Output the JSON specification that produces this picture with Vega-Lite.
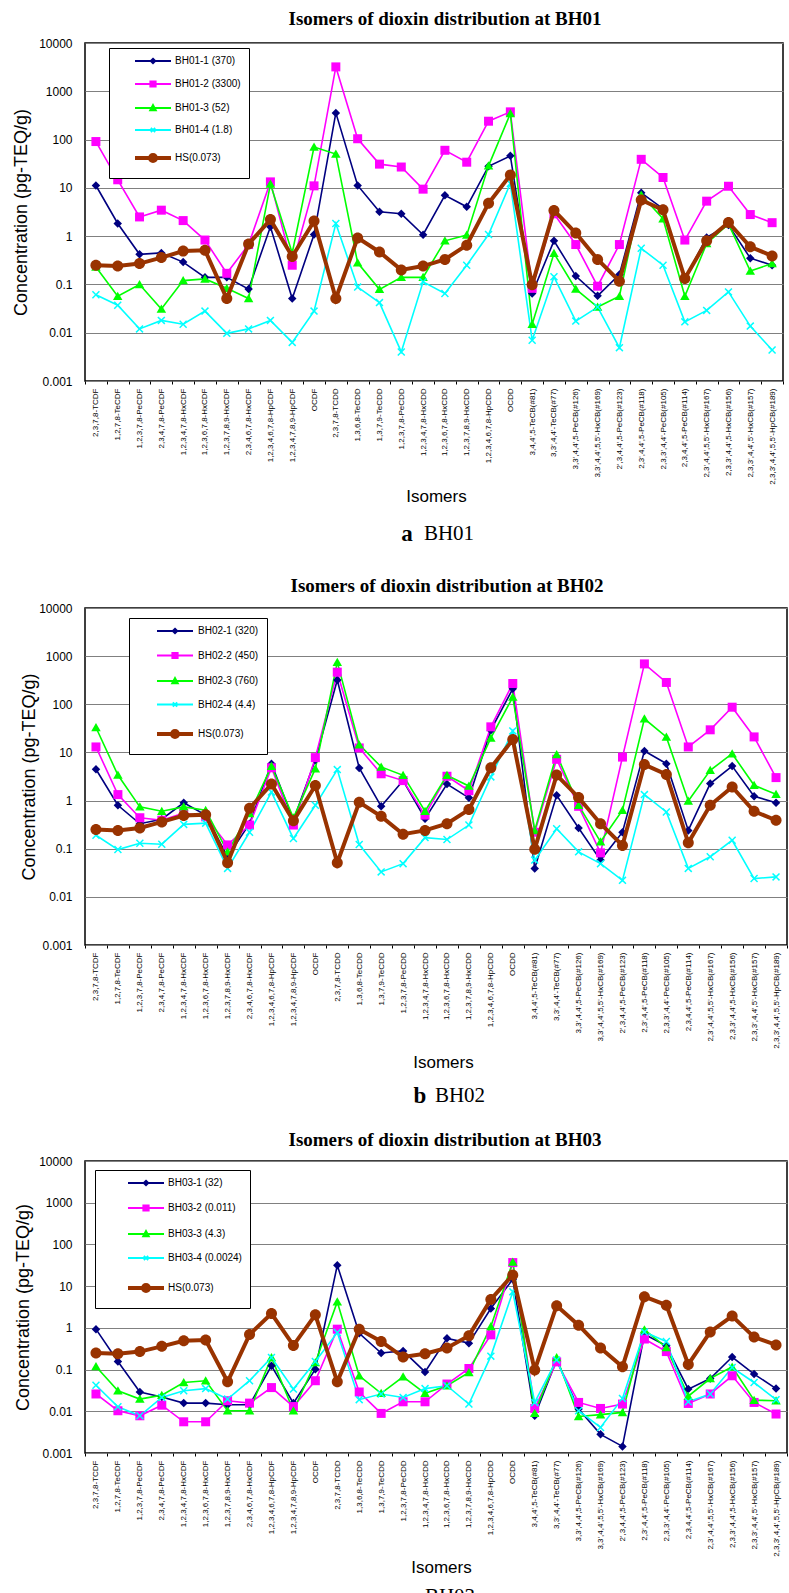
{
  "$schema": "https://vega.github.io/schema/vega-lite/v6.json",
  "description": "Isomers of dioxin distribution at BH01, BH02 and BH03 (log scale, pg-TEQ/g)",
  "padding": {"left": 11, "top": 9, "right": 0, "bottom": 0},
  "config": {
    "view": {"stroke": "black", "strokeWidth": 1.5},
    "font": "Liberation Sans",
    "axis": {"labelColor": "black", "titleColor": "black", "labelFont": "Liberation Sans", "titleFont": "Liberation Sans", "titleFontWeight": "normal"},
    "title": {"font": "Liberation Serif", "fontSize": 19, "fontWeight": "bold", "color": "black", "anchor": "middle", "frame": "group"},
    "legend": {
      "orient": "none", "title": null, "strokeColor": "black", "fillColor": "white", "padding": 8,
      "labelFont": "Liberation Sans", "labelFontSize": 10, "labelColor": "black", "symbolSize": 100,
      "cornerRadius": 0
    }
  },
  "datasets": {
    "HS": [
      {"series": "HS(0.073)", "isomer": "2,3,7,8-TCDF", "value": 0.25},
      {"series": "HS(0.073)", "isomer": "1,2,7,8-TeCDF", "value": 0.24},
      {"series": "HS(0.073)", "isomer": "1,2,3,7,8-PeCDF", "value": 0.27},
      {"series": "HS(0.073)", "isomer": "2,3,4,7,8-PeCDF", "value": 0.36},
      {"series": "HS(0.073)", "isomer": "1,2,3,4,7,8-HxCDF", "value": 0.49},
      {"series": "HS(0.073)", "isomer": "1,2,3,6,7,8-HxCDF", "value": 0.51},
      {"series": "HS(0.073)", "isomer": "1,2,3,7,8,9-HxCDF", "value": 0.051},
      {"series": "HS(0.073)", "isomer": "2,3,4,6,7,8-HxCDF", "value": 0.69},
      {"series": "HS(0.073)", "isomer": "1,2,3,4,6,7,8-HpCDF", "value": 2.2},
      {"series": "HS(0.073)", "isomer": "1,2,3,4,7,8,9-HpCDF", "value": 0.38},
      {"series": "HS(0.073)", "isomer": "OCDF", "value": 2.05},
      {"series": "HS(0.073)", "isomer": "2,3,7,8-TCDD", "value": 0.051},
      {"series": "HS(0.073)", "isomer": "1,3,6,8-TeCDD", "value": 0.92},
      {"series": "HS(0.073)", "isomer": "1,3,7,9-TeCDD", "value": 0.47},
      {"series": "HS(0.073)", "isomer": "1,2,3,7,8-PeCDD", "value": 0.2},
      {"series": "HS(0.073)", "isomer": "1,2,3,4,7,8-HxCDD", "value": 0.24},
      {"series": "HS(0.073)", "isomer": "1,2,3,6,7,8-HxCDD", "value": 0.33},
      {"series": "HS(0.073)", "isomer": "1,2,3,7,8,9-HxCDD", "value": 0.65},
      {"series": "HS(0.073)", "isomer": "1,2,3,4,6,7,8-HpCDD", "value": 4.8},
      {"series": "HS(0.073)", "isomer": "OCDD", "value": 18.5},
      {"series": "HS(0.073)", "isomer": "3,4,4',5-TeCB(#81)", "value": 0.098},
      {"series": "HS(0.073)", "isomer": "3,3',4,4'-TeCB(#77)", "value": 3.4},
      {"series": "HS(0.073)", "isomer": "3,3',4,4',5-PeCB(#126)", "value": 1.16},
      {"series": "HS(0.073)", "isomer": "3,3',4,4',5,5'-HxCB(#169)", "value": 0.33},
      {"series": "HS(0.073)", "isomer": "2',3,4,4',5-PeCB(#123)", "value": 0.117},
      {"series": "HS(0.073)", "isomer": "2,3',4,4',5-PeCB(#118)", "value": 5.6},
      {"series": "HS(0.073)", "isomer": "2,3,3',4,4'-PeCB(#105)", "value": 3.5},
      {"series": "HS(0.073)", "isomer": "2,3,4,4',5-PeCB(#114)", "value": 0.133},
      {"series": "HS(0.073)", "isomer": "2,3',4,4',5,5'-HxCB(#167)", "value": 0.8},
      {"series": "HS(0.073)", "isomer": "2,3,3',4,4',5-HxCB(#156)", "value": 1.92},
      {"series": "HS(0.073)", "isomer": "2,3,3',4,4',5'-HxCB(#157)", "value": 0.6},
      {"series": "HS(0.073)", "isomer": "2,3,3',4,4',5,5'-HpCB(#189)", "value": 0.39}
    ],
    "BH01": [
      {"series": "BH01-1 (370)", "isomer": "2,3,7,8-TCDF", "value": 11.2},
      {"series": "BH01-1 (370)", "isomer": "1,2,7,8-TeCDF", "value": 1.83},
      {"series": "BH01-1 (370)", "isomer": "1,2,3,7,8-PeCDF", "value": 0.42},
      {"series": "BH01-1 (370)", "isomer": "2,3,4,7,8-PeCDF", "value": 0.45},
      {"series": "BH01-1 (370)", "isomer": "1,2,3,4,7,8-HxCDF", "value": 0.29},
      {"series": "BH01-1 (370)", "isomer": "1,2,3,6,7,8-HxCDF", "value": 0.14},
      {"series": "BH01-1 (370)", "isomer": "1,2,3,7,8,9-HxCDF", "value": 0.14},
      {"series": "BH01-1 (370)", "isomer": "2,3,4,6,7,8-HxCDF", "value": 0.08},
      {"series": "BH01-1 (370)", "isomer": "1,2,3,4,6,7,8-HpCDF", "value": 1.56},
      {"series": "BH01-1 (370)", "isomer": "1,2,3,4,7,8,9-HpCDF", "value": 0.051},
      {"series": "BH01-1 (370)", "isomer": "OCDF", "value": 1.08},
      {"series": "BH01-1 (370)", "isomer": "2,3,7,8-TCDD", "value": 357},
      {"series": "BH01-1 (370)", "isomer": "1,3,6,8-TeCDD", "value": 11.2},
      {"series": "BH01-1 (370)", "isomer": "1,3,7,9-TeCDD", "value": 3.2},
      {"series": "BH01-1 (370)", "isomer": "1,2,3,7,8-PeCDD", "value": 2.9},
      {"series": "BH01-1 (370)", "isomer": "1,2,3,4,7,8-HxCDD", "value": 1.07},
      {"series": "BH01-1 (370)", "isomer": "1,2,3,6,7,8-HxCDD", "value": 7.0},
      {"series": "BH01-1 (370)", "isomer": "1,2,3,7,8,9-HxCDD", "value": 4.05},
      {"series": "BH01-1 (370)", "isomer": "1,2,3,4,6,7,8-HpCDD", "value": 28},
      {"series": "BH01-1 (370)", "isomer": "OCDD", "value": 46},
      {"series": "BH01-1 (370)", "isomer": "3,4,4',5-TeCB(#81)", "value": 0.065},
      {"series": "BH01-1 (370)", "isomer": "3,3',4,4'-TeCB(#77)", "value": 0.8},
      {"series": "BH01-1 (370)", "isomer": "3,3',4,4',5-PeCB(#126)", "value": 0.149},
      {"series": "BH01-1 (370)", "isomer": "3,3',4,4',5,5'-HxCB(#169)", "value": 0.058},
      {"series": "BH01-1 (370)", "isomer": "2',3,4,4',5-PeCB(#123)", "value": 0.16},
      {"series": "BH01-1 (370)", "isomer": "2,3',4,4',5-PeCB(#118)", "value": 7.9},
      {"series": "BH01-1 (370)", "isomer": "2,3,3',4,4'-PeCB(#105)", "value": 3.7},
      {"series": "BH01-1 (370)", "isomer": "2,3,4,4',5-PeCB(#114)", "value": 0.13},
      {"series": "BH01-1 (370)", "isomer": "2,3',4,4',5,5'-HxCB(#167)", "value": 0.94},
      {"series": "BH01-1 (370)", "isomer": "2,3,3',4,4',5-HxCB(#156)", "value": 1.7},
      {"series": "BH01-1 (370)", "isomer": "2,3,3',4,4',5'-HxCB(#157)", "value": 0.35},
      {"series": "BH01-1 (370)", "isomer": "2,3,3',4,4',5,5'-HpCB(#189)", "value": 0.25},
      {"series": "BH01-2 (3300)", "isomer": "2,3,7,8-TCDF", "value": 91},
      {"series": "BH01-2 (3300)", "isomer": "1,2,7,8-TeCDF", "value": 14.7},
      {"series": "BH01-2 (3300)", "isomer": "1,2,3,7,8-PeCDF", "value": 2.5},
      {"series": "BH01-2 (3300)", "isomer": "2,3,4,7,8-PeCDF", "value": 3.45},
      {"series": "BH01-2 (3300)", "isomer": "1,2,3,4,7,8-HxCDF", "value": 2.1},
      {"series": "BH01-2 (3300)", "isomer": "1,2,3,6,7,8-HxCDF", "value": 0.83},
      {"series": "BH01-2 (3300)", "isomer": "1,2,3,7,8,9-HxCDF", "value": 0.17},
      {"series": "BH01-2 (3300)", "isomer": "2,3,4,6,7,8-HxCDF", "value": 0.67},
      {"series": "BH01-2 (3300)", "isomer": "1,2,3,4,6,7,8-HpCDF", "value": 13.3},
      {"series": "BH01-2 (3300)", "isomer": "1,2,3,4,7,8,9-HpCDF", "value": 0.25},
      {"series": "BH01-2 (3300)", "isomer": "OCDF", "value": 11},
      {"series": "BH01-2 (3300)", "isomer": "2,3,7,8-TCDD", "value": 3200},
      {"series": "BH01-2 (3300)", "isomer": "1,3,6,8-TeCDD", "value": 104},
      {"series": "BH01-2 (3300)", "isomer": "1,3,7,9-TeCDD", "value": 31},
      {"series": "BH01-2 (3300)", "isomer": "1,2,3,7,8-PeCDD", "value": 27},
      {"series": "BH01-2 (3300)", "isomer": "1,2,3,4,7,8-HxCDD", "value": 9.4},
      {"series": "BH01-2 (3300)", "isomer": "1,2,3,6,7,8-HxCDD", "value": 60},
      {"series": "BH01-2 (3300)", "isomer": "1,2,3,7,8,9-HxCDD", "value": 34},
      {"series": "BH01-2 (3300)", "isomer": "1,2,3,4,6,7,8-HpCDD", "value": 240},
      {"series": "BH01-2 (3300)", "isomer": "OCDD", "value": 375},
      {"series": "BH01-2 (3300)", "isomer": "3,4,4',5-TeCB(#81)", "value": 0.083},
      {"series": "BH01-2 (3300)", "isomer": "3,3',4,4'-TeCB(#77)", "value": 2.9},
      {"series": "BH01-2 (3300)", "isomer": "3,3',4,4',5-PeCB(#126)", "value": 0.67},
      {"series": "BH01-2 (3300)", "isomer": "3,3',4,4',5,5'-HxCB(#169)", "value": 0.092},
      {"series": "BH01-2 (3300)", "isomer": "2',3,4,4',5-PeCB(#123)", "value": 0.67},
      {"series": "BH01-2 (3300)", "isomer": "2,3',4,4',5-PeCB(#118)", "value": 39},
      {"series": "BH01-2 (3300)", "isomer": "2,3,3',4,4'-PeCB(#105)", "value": 16.4},
      {"series": "BH01-2 (3300)", "isomer": "2,3,4,4',5-PeCB(#114)", "value": 0.83},
      {"series": "BH01-2 (3300)", "isomer": "2,3',4,4',5,5'-HxCB(#167)", "value": 5.3},
      {"series": "BH01-2 (3300)", "isomer": "2,3,3',4,4',5-HxCB(#156)", "value": 10.8},
      {"series": "BH01-2 (3300)", "isomer": "2,3,3',4,4',5'-HxCB(#157)", "value": 2.8},
      {"series": "BH01-2 (3300)", "isomer": "2,3,3',4,4',5,5'-HpCB(#189)", "value": 1.9},
      {"series": "BH01-3 (52)", "isomer": "2,3,7,8-TCDF", "value": 0.23},
      {"series": "BH01-3 (52)", "isomer": "1,2,7,8-TeCDF", "value": 0.057},
      {"series": "BH01-3 (52)", "isomer": "1,2,3,7,8-PeCDF", "value": 0.1},
      {"series": "BH01-3 (52)", "isomer": "2,3,4,7,8-PeCDF", "value": 0.031},
      {"series": "BH01-3 (52)", "isomer": "1,2,3,4,7,8-HxCDF", "value": 0.12},
      {"series": "BH01-3 (52)", "isomer": "1,2,3,6,7,8-HxCDF", "value": 0.13},
      {"series": "BH01-3 (52)", "isomer": "1,2,3,7,8,9-HxCDF", "value": 0.083},
      {"series": "BH01-3 (52)", "isomer": "2,3,4,6,7,8-HxCDF", "value": 0.051},
      {"series": "BH01-3 (52)", "isomer": "1,2,3,4,6,7,8-HpCDF", "value": 12},
      {"series": "BH01-3 (52)", "isomer": "1,2,3,4,7,8,9-HpCDF", "value": 0.45},
      {"series": "BH01-3 (52)", "isomer": "OCDF", "value": 70},
      {"series": "BH01-3 (52)", "isomer": "2,3,7,8-TCDD", "value": 50},
      {"series": "BH01-3 (52)", "isomer": "1,3,6,8-TeCDD", "value": 0.28},
      {"series": "BH01-3 (52)", "isomer": "1,3,7,9-TeCDD", "value": 0.079},
      {"series": "BH01-3 (52)", "isomer": "1,2,3,7,8-PeCDD", "value": 0.14},
      {"series": "BH01-3 (52)", "isomer": "1,2,3,4,7,8-HxCDD", "value": 0.14},
      {"series": "BH01-3 (52)", "isomer": "1,2,3,6,7,8-HxCDD", "value": 0.8},
      {"series": "BH01-3 (52)", "isomer": "1,2,3,7,8,9-HxCDD", "value": 1.05},
      {"series": "BH01-3 (52)", "isomer": "1,2,3,4,6,7,8-HpCDD", "value": 28.6},
      {"series": "BH01-3 (52)", "isomer": "OCDD", "value": 346},
      {"series": "BH01-3 (52)", "isomer": "3,4,4',5-TeCB(#81)", "value": 0.015},
      {"series": "BH01-3 (52)", "isomer": "3,3',4,4'-TeCB(#77)", "value": 0.44},
      {"series": "BH01-3 (52)", "isomer": "3,3',4,4',5-PeCB(#126)", "value": 0.08},
      {"series": "BH01-3 (52)", "isomer": "3,3',4,4',5,5'-HxCB(#169)", "value": 0.034},
      {"series": "BH01-3 (52)", "isomer": "2',3,4,4',5-PeCB(#123)", "value": 0.057},
      {"series": "BH01-3 (52)", "isomer": "2,3',4,4',5-PeCB(#118)", "value": 7.1},
      {"series": "BH01-3 (52)", "isomer": "2,3,3',4,4'-PeCB(#105)", "value": 2.3},
      {"series": "BH01-3 (52)", "isomer": "2,3,4,4',5-PeCB(#114)", "value": 0.057},
      {"series": "BH01-3 (52)", "isomer": "2,3',4,4',5,5'-HxCB(#167)", "value": 0.7},
      {"series": "BH01-3 (52)", "isomer": "2,3,3',4,4',5-HxCB(#156)", "value": 1.8},
      {"series": "BH01-3 (52)", "isomer": "2,3,3',4,4',5'-HxCB(#157)", "value": 0.19},
      {"series": "BH01-3 (52)", "isomer": "2,3,3',4,4',5,5'-HpCB(#189)", "value": 0.27},
      {"series": "BH01-4 (1.8)", "isomer": "2,3,7,8-TCDF", "value": 0.061},
      {"series": "BH01-4 (1.8)", "isomer": "1,2,7,8-TeCDF", "value": 0.037},
      {"series": "BH01-4 (1.8)", "isomer": "1,2,3,7,8-PeCDF", "value": 0.012},
      {"series": "BH01-4 (1.8)", "isomer": "2,3,4,7,8-PeCDF", "value": 0.018},
      {"series": "BH01-4 (1.8)", "isomer": "1,2,3,4,7,8-HxCDF", "value": 0.015},
      {"series": "BH01-4 (1.8)", "isomer": "1,2,3,6,7,8-HxCDF", "value": 0.028},
      {"series": "BH01-4 (1.8)", "isomer": "1,2,3,7,8,9-HxCDF", "value": 0.0097},
      {"series": "BH01-4 (1.8)", "isomer": "2,3,4,6,7,8-HxCDF", "value": 0.012},
      {"series": "BH01-4 (1.8)", "isomer": "1,2,3,4,6,7,8-HpCDF", "value": 0.018},
      {"series": "BH01-4 (1.8)", "isomer": "1,2,3,4,7,8,9-HpCDF", "value": 0.0063},
      {"series": "BH01-4 (1.8)", "isomer": "OCDF", "value": 0.028},
      {"series": "BH01-4 (1.8)", "isomer": "2,3,7,8-TCDD", "value": 1.83},
      {"series": "BH01-4 (1.8)", "isomer": "1,3,6,8-TeCDD", "value": 0.088},
      {"series": "BH01-4 (1.8)", "isomer": "1,3,7,9-TeCDD", "value": 0.042},
      {"series": "BH01-4 (1.8)", "isomer": "1,2,3,7,8-PeCDD", "value": 0.004},
      {"series": "BH01-4 (1.8)", "isomer": "1,2,3,4,7,8-HxCDD", "value": 0.113},
      {"series": "BH01-4 (1.8)", "isomer": "1,2,3,6,7,8-HxCDD", "value": 0.065},
      {"series": "BH01-4 (1.8)", "isomer": "1,2,3,7,8,9-HxCDD", "value": 0.25},
      {"series": "BH01-4 (1.8)", "isomer": "1,2,3,4,6,7,8-HpCDD", "value": 1.08},
      {"series": "BH01-4 (1.8)", "isomer": "OCDD", "value": 12.3},
      {"series": "BH01-4 (1.8)", "isomer": "3,4,4',5-TeCB(#81)", "value": 0.007},
      {"series": "BH01-4 (1.8)", "isomer": "3,3',4,4'-TeCB(#77)", "value": 0.144},
      {"series": "BH01-4 (1.8)", "isomer": "3,3',4,4',5-PeCB(#126)", "value": 0.0174},
      {"series": "BH01-4 (1.8)", "isomer": "3,3',4,4',5,5'-HxCB(#169)", "value": 0.034},
      {"series": "BH01-4 (1.8)", "isomer": "2',3,4,4',5-PeCB(#123)", "value": 0.0049},
      {"series": "BH01-4 (1.8)", "isomer": "2,3',4,4',5-PeCB(#118)", "value": 0.56},
      {"series": "BH01-4 (1.8)", "isomer": "2,3,3',4,4'-PeCB(#105)", "value": 0.25},
      {"series": "BH01-4 (1.8)", "isomer": "2,3,4,4',5-PeCB(#114)", "value": 0.0168},
      {"series": "BH01-4 (1.8)", "isomer": "2,3',4,4',5,5'-HxCB(#167)", "value": 0.029},
      {"series": "BH01-4 (1.8)", "isomer": "2,3,3',4,4',5-HxCB(#156)", "value": 0.07},
      {"series": "BH01-4 (1.8)", "isomer": "2,3,3',4,4',5'-HxCB(#157)", "value": 0.0137},
      {"series": "BH01-4 (1.8)", "isomer": "2,3,3',4,4',5,5'-HpCB(#189)", "value": 0.0044}
    ],
    "BH02": [
      {"series": "BH02-1 (320)", "isomer": "2,3,7,8-TCDF", "value": 4.47},
      {"series": "BH02-1 (320)", "isomer": "1,2,7,8-TeCDF", "value": 0.8},
      {"series": "BH02-1 (320)", "isomer": "1,2,3,7,8-PeCDF", "value": 0.33},
      {"series": "BH02-1 (320)", "isomer": "2,3,4,7,8-PeCDF", "value": 0.41},
      {"series": "BH02-1 (320)", "isomer": "1,2,3,4,7,8-HxCDF", "value": 0.9},
      {"series": "BH02-1 (320)", "isomer": "1,2,3,6,7,8-HxCDF", "value": 0.5},
      {"series": "BH02-1 (320)", "isomer": "1,2,3,7,8,9-HxCDF", "value": 0.068},
      {"series": "BH02-1 (320)", "isomer": "2,3,4,6,7,8-HxCDF", "value": 0.33},
      {"series": "BH02-1 (320)", "isomer": "1,2,3,4,6,7,8-HpCDF", "value": 5.8},
      {"series": "BH02-1 (320)", "isomer": "1,2,3,4,7,8,9-HpCDF", "value": 0.39},
      {"series": "BH02-1 (320)", "isomer": "OCDF", "value": 7},
      {"series": "BH02-1 (320)", "isomer": "2,3,7,8-TCDD", "value": 320},
      {"series": "BH02-1 (320)", "isomer": "1,3,6,8-TeCDD", "value": 4.75},
      {"series": "BH02-1 (320)", "isomer": "1,3,7,9-TeCDD", "value": 0.76},
      {"series": "BH02-1 (320)", "isomer": "1,2,3,7,8-PeCDD", "value": 2.6},
      {"series": "BH02-1 (320)", "isomer": "1,2,3,4,7,8-HxCDD", "value": 0.42},
      {"series": "BH02-1 (320)", "isomer": "1,2,3,6,7,8-HxCDD", "value": 2.2},
      {"series": "BH02-1 (320)", "isomer": "1,2,3,7,8,9-HxCDD", "value": 1.14},
      {"series": "BH02-1 (320)", "isomer": "1,2,3,4,6,7,8-HpCDD", "value": 29},
      {"series": "BH02-1 (320)", "isomer": "OCDD", "value": 210},
      {"series": "BH02-1 (320)", "isomer": "3,4,4',5-TeCB(#81)", "value": 0.039},
      {"series": "BH02-1 (320)", "isomer": "3,3',4,4'-TeCB(#77)", "value": 1.29},
      {"series": "BH02-1 (320)", "isomer": "3,3',4,4',5-PeCB(#126)", "value": 0.27},
      {"series": "BH02-1 (320)", "isomer": "3,3',4,4',5,5'-HxCB(#169)", "value": 0.058},
      {"series": "BH02-1 (320)", "isomer": "2',3,4,4',5-PeCB(#123)", "value": 0.22},
      {"series": "BH02-1 (320)", "isomer": "2,3',4,4',5-PeCB(#118)", "value": 10.7},
      {"series": "BH02-1 (320)", "isomer": "2,3,3',4,4'-PeCB(#105)", "value": 5.85},
      {"series": "BH02-1 (320)", "isomer": "2,3,4,4',5-PeCB(#114)", "value": 0.24},
      {"series": "BH02-1 (320)", "isomer": "2,3',4,4',5,5'-HxCB(#167)", "value": 2.25},
      {"series": "BH02-1 (320)", "isomer": "2,3,3',4,4',5-HxCB(#156)", "value": 5.2},
      {"series": "BH02-1 (320)", "isomer": "2,3,3',4,4',5'-HxCB(#157)", "value": 1.23},
      {"series": "BH02-1 (320)", "isomer": "2,3,3',4,4',5,5'-HpCB(#189)", "value": 0.9},
      {"series": "BH02-2 (450)", "isomer": "2,3,7,8-TCDF", "value": 13},
      {"series": "BH02-2 (450)", "isomer": "1,2,7,8-TeCDF", "value": 1.33},
      {"series": "BH02-2 (450)", "isomer": "1,2,3,7,8-PeCDF", "value": 0.44},
      {"series": "BH02-2 (450)", "isomer": "2,3,4,7,8-PeCDF", "value": 0.39},
      {"series": "BH02-2 (450)", "isomer": "1,2,3,4,7,8-HxCDF", "value": 0.55},
      {"series": "BH02-2 (450)", "isomer": "1,2,3,6,7,8-HxCDF", "value": 0.46},
      {"series": "BH02-2 (450)", "isomer": "1,2,3,7,8,9-HxCDF", "value": 0.12},
      {"series": "BH02-2 (450)", "isomer": "2,3,4,6,7,8-HxCDF", "value": 0.31},
      {"series": "BH02-2 (450)", "isomer": "1,2,3,4,6,7,8-HpCDF", "value": 4.8},
      {"series": "BH02-2 (450)", "isomer": "1,2,3,4,7,8,9-HpCDF", "value": 0.31},
      {"series": "BH02-2 (450)", "isomer": "OCDF", "value": 7.8},
      {"series": "BH02-2 (450)", "isomer": "2,3,7,8-TCDD", "value": 465},
      {"series": "BH02-2 (450)", "isomer": "1,3,6,8-TeCDD", "value": 12.4},
      {"series": "BH02-2 (450)", "isomer": "1,3,7,9-TeCDD", "value": 3.6},
      {"series": "BH02-2 (450)", "isomer": "1,2,3,7,8-PeCDD", "value": 2.6},
      {"series": "BH02-2 (450)", "isomer": "1,2,3,4,7,8-HxCDD", "value": 0.5},
      {"series": "BH02-2 (450)", "isomer": "1,2,3,6,7,8-HxCDD", "value": 3.2},
      {"series": "BH02-2 (450)", "isomer": "1,2,3,7,8,9-HxCDD", "value": 1.6},
      {"series": "BH02-2 (450)", "isomer": "1,2,3,4,6,7,8-HpCDD", "value": 34},
      {"series": "BH02-2 (450)", "isomer": "OCDD", "value": 270},
      {"series": "BH02-2 (450)", "isomer": "3,4,4',5-TeCB(#81)", "value": 0.22},
      {"series": "BH02-2 (450)", "isomer": "3,3',4,4'-TeCB(#77)", "value": 7.2},
      {"series": "BH02-2 (450)", "isomer": "3,3',4,4',5-PeCB(#126)", "value": 0.76},
      {"series": "BH02-2 (450)", "isomer": "3,3',4,4',5,5'-HxCB(#169)", "value": 0.082},
      {"series": "BH02-2 (450)", "isomer": "2',3,4,4',5-PeCB(#123)", "value": 8},
      {"series": "BH02-2 (450)", "isomer": "2,3',4,4',5-PeCB(#118)", "value": 690},
      {"series": "BH02-2 (450)", "isomer": "2,3,3',4,4'-PeCB(#105)", "value": 284},
      {"series": "BH02-2 (450)", "isomer": "2,3,4,4',5-PeCB(#114)", "value": 13},
      {"series": "BH02-2 (450)", "isomer": "2,3',4,4',5,5'-HxCB(#167)", "value": 29.5},
      {"series": "BH02-2 (450)", "isomer": "2,3,3',4,4',5-HxCB(#156)", "value": 87},
      {"series": "BH02-2 (450)", "isomer": "2,3,3',4,4',5'-HxCB(#157)", "value": 21},
      {"series": "BH02-2 (450)", "isomer": "2,3,3',4,4',5,5'-HpCB(#189)", "value": 3},
      {"series": "BH02-3 (760)", "isomer": "2,3,7,8-TCDF", "value": 33},
      {"series": "BH02-3 (760)", "isomer": "1,2,7,8-TeCDF", "value": 3.4},
      {"series": "BH02-3 (760)", "isomer": "1,2,3,7,8-PeCDF", "value": 0.74},
      {"series": "BH02-3 (760)", "isomer": "2,3,4,7,8-PeCDF", "value": 0.6},
      {"series": "BH02-3 (760)", "isomer": "1,2,3,4,7,8-HxCDF", "value": 0.74},
      {"series": "BH02-3 (760)", "isomer": "1,2,3,6,7,8-HxCDF", "value": 0.63},
      {"series": "BH02-3 (760)", "isomer": "1,2,3,7,8,9-HxCDF", "value": 0.086},
      {"series": "BH02-3 (760)", "isomer": "2,3,4,6,7,8-HxCDF", "value": 0.54},
      {"series": "BH02-3 (760)", "isomer": "1,2,3,4,6,7,8-HpCDF", "value": 5.15},
      {"series": "BH02-3 (760)", "isomer": "1,2,3,4,7,8,9-HpCDF", "value": 0.44},
      {"series": "BH02-3 (760)", "isomer": "OCDF", "value": 4.6},
      {"series": "BH02-3 (760)", "isomer": "2,3,7,8-TCDD", "value": 750},
      {"series": "BH02-3 (760)", "isomer": "1,3,6,8-TeCDD", "value": 14.5},
      {"series": "BH02-3 (760)", "isomer": "1,3,7,9-TeCDD", "value": 5},
      {"series": "BH02-3 (760)", "isomer": "1,2,3,7,8-PeCDD", "value": 3.35},
      {"series": "BH02-3 (760)", "isomer": "1,2,3,4,7,8-HxCDD", "value": 0.6},
      {"series": "BH02-3 (760)", "isomer": "1,2,3,6,7,8-HxCDD", "value": 3.35},
      {"series": "BH02-3 (760)", "isomer": "1,2,3,7,8,9-HxCDD", "value": 2},
      {"series": "BH02-3 (760)", "isomer": "1,2,3,4,6,7,8-HpCDD", "value": 20},
      {"series": "BH02-3 (760)", "isomer": "OCDD", "value": 141},
      {"series": "BH02-3 (760)", "isomer": "3,4,4',5-TeCB(#81)", "value": 0.24},
      {"series": "BH02-3 (760)", "isomer": "3,3',4,4'-TeCB(#77)", "value": 9.1},
      {"series": "BH02-3 (760)", "isomer": "3,3',4,4',5-PeCB(#126)", "value": 0.8},
      {"series": "BH02-3 (760)", "isomer": "3,3',4,4',5,5'-HxCB(#169)", "value": 0.139},
      {"series": "BH02-3 (760)", "isomer": "2',3,4,4',5-PeCB(#123)", "value": 0.63},
      {"series": "BH02-3 (760)", "isomer": "2,3',4,4',5-PeCB(#118)", "value": 50},
      {"series": "BH02-3 (760)", "isomer": "2,3,3',4,4'-PeCB(#105)", "value": 21},
      {"series": "BH02-3 (760)", "isomer": "2,3,4,4',5-PeCB(#114)", "value": 0.98},
      {"series": "BH02-3 (760)", "isomer": "2,3',4,4',5,5'-HxCB(#167)", "value": 4.25},
      {"series": "BH02-3 (760)", "isomer": "2,3,3',4,4',5-HxCB(#156)", "value": 9.4},
      {"series": "BH02-3 (760)", "isomer": "2,3,3',4,4',5'-HxCB(#157)", "value": 2.08},
      {"series": "BH02-3 (760)", "isomer": "2,3,3',4,4',5,5'-HpCB(#189)", "value": 1.35},
      {"series": "BH02-4 (4.4)", "isomer": "2,3,7,8-TCDF", "value": 0.19},
      {"series": "BH02-4 (4.4)", "isomer": "1,2,7,8-TeCDF", "value": 0.096},
      {"series": "BH02-4 (4.4)", "isomer": "1,2,3,7,8-PeCDF", "value": 0.13},
      {"series": "BH02-4 (4.4)", "isomer": "2,3,4,7,8-PeCDF", "value": 0.124},
      {"series": "BH02-4 (4.4)", "isomer": "1,2,3,4,7,8-HxCDF", "value": 0.32},
      {"series": "BH02-4 (4.4)", "isomer": "1,2,3,6,7,8-HxCDF", "value": 0.34},
      {"series": "BH02-4 (4.4)", "isomer": "1,2,3,7,8,9-HxCDF", "value": 0.039},
      {"series": "BH02-4 (4.4)", "isomer": "2,3,4,6,7,8-HxCDF", "value": 0.22},
      {"series": "BH02-4 (4.4)", "isomer": "1,2,3,4,6,7,8-HpCDF", "value": 1.5},
      {"series": "BH02-4 (4.4)", "isomer": "1,2,3,4,7,8,9-HpCDF", "value": 0.163},
      {"series": "BH02-4 (4.4)", "isomer": "OCDF", "value": 0.8},
      {"series": "BH02-4 (4.4)", "isomer": "2,3,7,8-TCDD", "value": 4.4},
      {"series": "BH02-4 (4.4)", "isomer": "1,3,6,8-TeCDD", "value": 0.122},
      {"series": "BH02-4 (4.4)", "isomer": "1,3,7,9-TeCDD", "value": 0.033},
      {"series": "BH02-4 (4.4)", "isomer": "1,2,3,7,8-PeCDD", "value": 0.049},
      {"series": "BH02-4 (4.4)", "isomer": "1,2,3,4,7,8-HxCDD", "value": 0.17},
      {"series": "BH02-4 (4.4)", "isomer": "1,2,3,6,7,8-HxCDD", "value": 0.155},
      {"series": "BH02-4 (4.4)", "isomer": "1,2,3,7,8,9-HxCDD", "value": 0.31},
      {"series": "BH02-4 (4.4)", "isomer": "1,2,3,4,6,7,8-HpCDD", "value": 3.1},
      {"series": "BH02-4 (4.4)", "isomer": "OCDD", "value": 28},
      {"series": "BH02-4 (4.4)", "isomer": "3,4,4',5-TeCB(#81)", "value": 0.058},
      {"series": "BH02-4 (4.4)", "isomer": "3,3',4,4'-TeCB(#77)", "value": 0.26},
      {"series": "BH02-4 (4.4)", "isomer": "3,3',4,4',5-PeCB(#126)", "value": 0.086},
      {"series": "BH02-4 (4.4)", "isomer": "3,3',4,4',5,5'-HxCB(#169)", "value": 0.049},
      {"series": "BH02-4 (4.4)", "isomer": "2',3,4,4',5-PeCB(#123)", "value": 0.022},
      {"series": "BH02-4 (4.4)", "isomer": "2,3',4,4',5-PeCB(#118)", "value": 1.33},
      {"series": "BH02-4 (4.4)", "isomer": "2,3,3',4,4'-PeCB(#105)", "value": 0.58},
      {"series": "BH02-4 (4.4)", "isomer": "2,3,4,4',5-PeCB(#114)", "value": 0.039},
      {"series": "BH02-4 (4.4)", "isomer": "2,3',4,4',5,5'-HxCB(#167)", "value": 0.068},
      {"series": "BH02-4 (4.4)", "isomer": "2,3,3',4,4',5-HxCB(#156)", "value": 0.15},
      {"series": "BH02-4 (4.4)", "isomer": "2,3,3',4,4',5'-HxCB(#157)", "value": 0.024},
      {"series": "BH02-4 (4.4)", "isomer": "2,3,3',4,4',5,5'-HpCB(#189)", "value": 0.026}
    ],
    "BH03": [
      {"series": "BH03-1 (32)", "isomer": "2,3,7,8-TCDF", "value": 0.93},
      {"series": "BH03-1 (32)", "isomer": "1,2,7,8-TeCDF", "value": 0.156},
      {"series": "BH03-1 (32)", "isomer": "1,2,3,7,8-PeCDF", "value": 0.029},
      {"series": "BH03-1 (32)", "isomer": "2,3,4,7,8-PeCDF", "value": 0.022},
      {"series": "BH03-1 (32)", "isomer": "1,2,3,4,7,8-HxCDF", "value": 0.0157},
      {"series": "BH03-1 (32)", "isomer": "1,2,3,6,7,8-HxCDF", "value": 0.0157},
      {"series": "BH03-1 (32)", "isomer": "1,2,3,7,8,9-HxCDF", "value": 0.0143},
      {"series": "BH03-1 (32)", "isomer": "2,3,4,6,7,8-HxCDF", "value": 0.0143},
      {"series": "BH03-1 (32)", "isomer": "1,2,3,4,6,7,8-HpCDF", "value": 0.123},
      {"series": "BH03-1 (32)", "isomer": "1,2,3,4,7,8,9-HpCDF", "value": 0.0157},
      {"series": "BH03-1 (32)", "isomer": "OCDF", "value": 0.102},
      {"series": "BH03-1 (32)", "isomer": "2,3,7,8-TCDD", "value": 31.7},
      {"series": "BH03-1 (32)", "isomer": "1,3,6,8-TeCDD", "value": 0.74},
      {"series": "BH03-1 (32)", "isomer": "1,3,7,9-TeCDD", "value": 0.25},
      {"series": "BH03-1 (32)", "isomer": "1,2,3,7,8-PeCDD", "value": 0.28},
      {"series": "BH03-1 (32)", "isomer": "1,2,3,4,7,8-HxCDD", "value": 0.088},
      {"series": "BH03-1 (32)", "isomer": "1,2,3,6,7,8-HxCDD", "value": 0.56},
      {"series": "BH03-1 (32)", "isomer": "1,2,3,7,8,9-HxCDD", "value": 0.43},
      {"series": "BH03-1 (32)", "isomer": "1,2,3,4,6,7,8-HpCDD", "value": 2.9},
      {"series": "BH03-1 (32)", "isomer": "OCDD", "value": 14.6},
      {"series": "BH03-1 (32)", "isomer": "3,4,4',5-TeCB(#81)", "value": 0.0078},
      {"series": "BH03-1 (32)", "isomer": "3,3',4,4'-TeCB(#77)", "value": 0.17},
      {"series": "BH03-1 (32)", "isomer": "3,3',4,4',5-PeCB(#126)", "value": 0.0113},
      {"series": "BH03-1 (32)", "isomer": "3,3',4,4',5,5'-HxCB(#169)", "value": 0.0028},
      {"series": "BH03-1 (32)", "isomer": "2',3,4,4',5-PeCB(#123)", "value": 0.00144},
      {"series": "BH03-1 (32)", "isomer": "2,3',4,4',5-PeCB(#118)", "value": 0.7},
      {"series": "BH03-1 (32)", "isomer": "2,3,3',4,4'-PeCB(#105)", "value": 0.37},
      {"series": "BH03-1 (32)", "isomer": "2,3,4,4',5-PeCB(#114)", "value": 0.034},
      {"series": "BH03-1 (32)", "isomer": "2,3',4,4',5,5'-HxCB(#167)", "value": 0.061},
      {"series": "BH03-1 (32)", "isomer": "2,3,3',4,4',5-HxCB(#156)", "value": 0.2},
      {"series": "BH03-1 (32)", "isomer": "2,3,3',4,4',5'-HxCB(#157)", "value": 0.078},
      {"series": "BH03-1 (32)", "isomer": "2,3,3',4,4',5,5'-HpCB(#189)", "value": 0.035},
      {"series": "BH03-2 (0.011)", "isomer": "2,3,7,8-TCDF", "value": 0.026},
      {"series": "BH03-2 (0.011)", "isomer": "1,2,7,8-TeCDF", "value": 0.0103},
      {"series": "BH03-2 (0.011)", "isomer": "1,2,3,7,8-PeCDF", "value": 0.0078},
      {"series": "BH03-2 (0.011)", "isomer": "2,3,4,7,8-PeCDF", "value": 0.014},
      {"series": "BH03-2 (0.011)", "isomer": "1,2,3,4,7,8-HxCDF", "value": 0.0056},
      {"series": "BH03-2 (0.011)", "isomer": "1,2,3,6,7,8-HxCDF", "value": 0.0056},
      {"series": "BH03-2 (0.011)", "isomer": "1,2,3,7,8,9-HxCDF", "value": 0.0179},
      {"series": "BH03-2 (0.011)", "isomer": "2,3,4,6,7,8-HxCDF", "value": 0.0157},
      {"series": "BH03-2 (0.011)", "isomer": "1,2,3,4,6,7,8-HpCDF", "value": 0.037},
      {"series": "BH03-2 (0.011)", "isomer": "1,2,3,4,7,8,9-HpCDF", "value": 0.013},
      {"series": "BH03-2 (0.011)", "isomer": "OCDF", "value": 0.054},
      {"series": "BH03-2 (0.011)", "isomer": "2,3,7,8-TCDD", "value": 0.93},
      {"series": "BH03-2 (0.011)", "isomer": "1,3,6,8-TeCDD", "value": 0.029},
      {"series": "BH03-2 (0.011)", "isomer": "1,3,7,9-TeCDD", "value": 0.0089},
      {"series": "BH03-2 (0.011)", "isomer": "1,2,3,7,8-PeCDD", "value": 0.0169},
      {"series": "BH03-2 (0.011)", "isomer": "1,2,3,4,7,8-HxCDD", "value": 0.0169},
      {"series": "BH03-2 (0.011)", "isomer": "1,2,3,6,7,8-HxCDD", "value": 0.045},
      {"series": "BH03-2 (0.011)", "isomer": "1,2,3,7,8,9-HxCDD", "value": 0.106},
      {"series": "BH03-2 (0.011)", "isomer": "1,2,3,4,6,7,8-HpCDD", "value": 0.68},
      {"series": "BH03-2 (0.011)", "isomer": "OCDD", "value": 36.7},
      {"series": "BH03-2 (0.011)", "isomer": "3,4,4',5-TeCB(#81)", "value": 0.0117},
      {"series": "BH03-2 (0.011)", "isomer": "3,3',4,4'-TeCB(#77)", "value": 0.153},
      {"series": "BH03-2 (0.011)", "isomer": "3,3',4,4',5-PeCB(#126)", "value": 0.0163},
      {"series": "BH03-2 (0.011)", "isomer": "3,3',4,4',5,5'-HxCB(#169)", "value": 0.0117},
      {"series": "BH03-2 (0.011)", "isomer": "2',3,4,4',5-PeCB(#123)", "value": 0.0149},
      {"series": "BH03-2 (0.011)", "isomer": "2,3',4,4',5-PeCB(#118)", "value": 0.54},
      {"series": "BH03-2 (0.011)", "isomer": "2,3,3',4,4'-PeCB(#105)", "value": 0.27},
      {"series": "BH03-2 (0.011)", "isomer": "2,3,4,4',5-PeCB(#114)", "value": 0.0154},
      {"series": "BH03-2 (0.011)", "isomer": "2,3',4,4',5,5'-HxCB(#167)", "value": 0.026},
      {"series": "BH03-2 (0.011)", "isomer": "2,3,3',4,4',5-HxCB(#156)", "value": 0.071},
      {"series": "BH03-2 (0.011)", "isomer": "2,3,3',4,4',5'-HxCB(#157)", "value": 0.0163},
      {"series": "BH03-2 (0.011)", "isomer": "2,3,3',4,4',5,5'-HpCB(#189)", "value": 0.0086},
      {"series": "BH03-3 (4.3)", "isomer": "2,3,7,8-TCDF", "value": 0.119},
      {"series": "BH03-3 (4.3)", "isomer": "1,2,7,8-TeCDF", "value": 0.031},
      {"series": "BH03-3 (4.3)", "isomer": "1,2,3,7,8-PeCDF", "value": 0.0196},
      {"series": "BH03-3 (4.3)", "isomer": "2,3,4,7,8-PeCDF", "value": 0.0244},
      {"series": "BH03-3 (4.3)", "isomer": "1,2,3,4,7,8-HxCDF", "value": 0.049},
      {"series": "BH03-3 (4.3)", "isomer": "1,2,3,6,7,8-HxCDF", "value": 0.054},
      {"series": "BH03-3 (4.3)", "isomer": "1,2,3,7,8,9-HxCDF", "value": 0.0103},
      {"series": "BH03-3 (4.3)", "isomer": "2,3,4,6,7,8-HxCDF", "value": 0.0103},
      {"series": "BH03-3 (4.3)", "isomer": "1,2,3,4,6,7,8-HpCDF", "value": 0.195},
      {"series": "BH03-3 (4.3)", "isomer": "1,2,3,4,7,8,9-HpCDF", "value": 0.0103},
      {"series": "BH03-3 (4.3)", "isomer": "OCDF", "value": 0.148},
      {"series": "BH03-3 (4.3)", "isomer": "2,3,7,8-TCDD", "value": 4.2},
      {"series": "BH03-3 (4.3)", "isomer": "1,3,6,8-TeCDD", "value": 0.071},
      {"series": "BH03-3 (4.3)", "isomer": "1,3,7,9-TeCDD", "value": 0.027},
      {"series": "BH03-3 (4.3)", "isomer": "1,2,3,7,8-PeCDD", "value": 0.067},
      {"series": "BH03-3 (4.3)", "isomer": "1,2,3,4,7,8-HxCDD", "value": 0.027},
      {"series": "BH03-3 (4.3)", "isomer": "1,2,3,6,7,8-HxCDD", "value": 0.041},
      {"series": "BH03-3 (4.3)", "isomer": "1,2,3,7,8,9-HxCDD", "value": 0.085},
      {"series": "BH03-3 (4.3)", "isomer": "1,2,3,4,6,7,8-HpCDD", "value": 1.08},
      {"series": "BH03-3 (4.3)", "isomer": "OCDD", "value": 38},
      {"series": "BH03-3 (4.3)", "isomer": "3,4,4',5-TeCB(#81)", "value": 0.009},
      {"series": "BH03-3 (4.3)", "isomer": "3,3',4,4'-TeCB(#77)", "value": 0.195},
      {"series": "BH03-3 (4.3)", "isomer": "3,3',4,4',5-PeCB(#126)", "value": 0.0075},
      {"series": "BH03-3 (4.3)", "isomer": "3,3',4,4',5,5'-HxCB(#169)", "value": 0.0083},
      {"series": "BH03-3 (4.3)", "isomer": "2',3,4,4',5-PeCB(#123)", "value": 0.0094},
      {"series": "BH03-3 (4.3)", "isomer": "2,3',4,4',5-PeCB(#118)", "value": 0.9},
      {"series": "BH03-3 (4.3)", "isomer": "2,3,3',4,4'-PeCB(#105)", "value": 0.34},
      {"series": "BH03-3 (4.3)", "isomer": "2,3,4,4',5-PeCB(#114)", "value": 0.023},
      {"series": "BH03-3 (4.3)", "isomer": "2,3',4,4',5,5'-HxCB(#167)", "value": 0.061},
      {"series": "BH03-3 (4.3)", "isomer": "2,3,3',4,4',5-HxCB(#156)", "value": 0.116},
      {"series": "BH03-3 (4.3)", "isomer": "2,3,3',4,4',5'-HxCB(#157)", "value": 0.0185},
      {"series": "BH03-3 (4.3)", "isomer": "2,3,3',4,4',5,5'-HpCB(#189)", "value": 0.0179},
      {"series": "BH03-4 (0.0024)", "isomer": "2,3,7,8-TCDF", "value": 0.042},
      {"series": "BH03-4 (0.0024)", "isomer": "1,2,7,8-TeCDF", "value": 0.0128},
      {"series": "BH03-4 (0.0024)", "isomer": "1,2,3,7,8-PeCDF", "value": 0.0078},
      {"series": "BH03-4 (0.0024)", "isomer": "2,3,4,7,8-PeCDF", "value": 0.0215},
      {"series": "BH03-4 (0.0024)", "isomer": "1,2,3,4,7,8-HxCDF", "value": 0.031},
      {"series": "BH03-4 (0.0024)", "isomer": "1,2,3,6,7,8-HxCDF", "value": 0.035},
      {"series": "BH03-4 (0.0024)", "isomer": "1,2,3,7,8,9-HxCDF", "value": 0.0196},
      {"series": "BH03-4 (0.0024)", "isomer": "2,3,4,6,7,8-HxCDF", "value": 0.054},
      {"series": "BH03-4 (0.0024)", "isomer": "1,2,3,4,6,7,8-HpCDF", "value": 0.195},
      {"series": "BH03-4 (0.0024)", "isomer": "1,2,3,4,7,8,9-HpCDF", "value": 0.034},
      {"series": "BH03-4 (0.0024)", "isomer": "OCDF", "value": 0.156},
      {"series": "BH03-4 (0.0024)", "isomer": "2,3,7,8-TCDD", "value": 0.77},
      {"series": "BH03-4 (0.0024)", "isomer": "1,3,6,8-TeCDD", "value": 0.019},
      {"series": "BH03-4 (0.0024)", "isomer": "1,3,7,9-TeCDD", "value": 0.026},
      {"series": "BH03-4 (0.0024)", "isomer": "1,2,3,7,8-PeCDD", "value": 0.0215},
      {"series": "BH03-4 (0.0024)", "isomer": "1,2,3,4,7,8-HxCDD", "value": 0.035},
      {"series": "BH03-4 (0.0024)", "isomer": "1,2,3,6,7,8-HxCDD", "value": 0.041},
      {"series": "BH03-4 (0.0024)", "isomer": "1,2,3,7,8,9-HxCDD", "value": 0.0149},
      {"series": "BH03-4 (0.0024)", "isomer": "1,2,3,4,6,7,8-HpCDD", "value": 0.21},
      {"series": "BH03-4 (0.0024)", "isomer": "OCDD", "value": 7.3},
      {"series": "BH03-4 (0.0024)", "isomer": "3,4,4',5-TeCB(#81)", "value": 0.0163},
      {"series": "BH03-4 (0.0024)", "isomer": "3,3',4,4'-TeCB(#77)", "value": 0.17},
      {"series": "BH03-4 (0.0024)", "isomer": "3,3',4,4',5-PeCB(#126)", "value": 0.0103},
      {"series": "BH03-4 (0.0024)", "isomer": "3,3',4,4',5,5'-HxCB(#169)", "value": 0.0041},
      {"series": "BH03-4 (0.0024)", "isomer": "2',3,4,4',5-PeCB(#123)", "value": 0.0203},
      {"series": "BH03-4 (0.0024)", "isomer": "2,3',4,4',5-PeCB(#118)", "value": 0.8},
      {"series": "BH03-4 (0.0024)", "isomer": "2,3,3',4,4'-PeCB(#105)", "value": 0.47},
      {"series": "BH03-4 (0.0024)", "isomer": "2,3,4,4',5-PeCB(#114)", "value": 0.0169},
      {"series": "BH03-4 (0.0024)", "isomer": "2,3',4,4',5,5'-HxCB(#167)", "value": 0.026},
      {"series": "BH03-4 (0.0024)", "isomer": "2,3,3',4,4',5-HxCB(#156)", "value": 0.112},
      {"series": "BH03-4 (0.0024)", "isomer": "2,3,3',4,4',5'-HxCB(#157)", "value": 0.049},
      {"series": "BH03-4 (0.0024)", "isomer": "2,3,3',4,4',5,5'-HpCB(#189)", "value": 0.019}
    ]
  },
  "spacing": 10,
  "resolve": {"scale": {"x": "independent", "y": "independent", "color": "independent", "shape": "independent"}},
  "vconcat": [
    {
      "width": 698,
      "height": 338,
      "title": {"text": "Isomers of dioxin distribution at BH01", "offset": 8, "dx": 11},
      "encoding": {
        "x": {
          "field": "isomer", "type": "nominal",
          "scale": {"type": "band", "paddingInner": 0, "paddingOuter": 0, "domain": ["2,3,7,8-TCDF", "1,2,7,8-TeCDF", "1,2,3,7,8-PeCDF", "2,3,4,7,8-PeCDF", "1,2,3,4,7,8-HxCDF", "1,2,3,6,7,8-HxCDF", "1,2,3,7,8,9-HxCDF", "2,3,4,6,7,8-HxCDF", "1,2,3,4,6,7,8-HpCDF", "1,2,3,4,7,8,9-HpCDF", "OCDF", "2,3,7,8-TCDD", "1,3,6,8-TeCDD", "1,3,7,9-TeCDD", "1,2,3,7,8-PeCDD", "1,2,3,4,7,8-HxCDD", "1,2,3,6,7,8-HxCDD", "1,2,3,7,8,9-HxCDD", "1,2,3,4,6,7,8-HpCDD", "OCDD", "3,4,4',5-TeCB(#81)", "3,3',4,4'-TeCB(#77)", "3,3',4,4',5-PeCB(#126)", "3,3',4,4',5,5'-HxCB(#169)", "2',3,4,4',5-PeCB(#123)", "2,3',4,4',5-PeCB(#118)", "2,3,3',4,4'-PeCB(#105)", "2,3,4,4',5-PeCB(#114)", "2,3',4,4',5,5'-HxCB(#167)", "2,3,3',4,4',5-HxCB(#156)", "2,3,3',4,4',5'-HxCB(#157)", "2,3,3',4,4',5,5'-HpCB(#189)"]},
          "axis": {"title": "Isomers", "titleFontSize": 17, "titleY": 115, "titleX": 351, "titleBaseline": "middle", "labelAngle": -90, "labelFontSize": 8, "labelPadding": 4, "tickBand": "extent", "tickSize": 3, "tickColor": "black", "domain": false, "grid": false}
        },
        "y": {
          "field": "value", "type": "quantitative",
          "scale": {"type": "log", "domain": [0.001, 10000], "nice": false},
          "axis": {"title": "Concentration (pg-TEQ/g)", "titleFontSize": 18, "titlePadding": 8, "labelFontSize": 12, "labelPadding": 13, "ticks": false, "domain": false, "grid": true, "gridColor": "#808080", "gridWidth": 1, "values": [0.001, 0.01, 0.1, 1, 10, 100, 1000, 10000], "format": "~g"}
        },
        "color": {
          "field": "series", "type": "nominal",
          "scale": {"domain": ["BH01-1 (370)", "BH01-2 (3300)", "BH01-3 (52)", "BH01-4 (1.8)", "HS(0.073)"], "range": ["#000080", "#ff00ff", "#00ff00", "#00ffff", "#993300"]},
          "legend": {
            "legendX": 24, "legendY": 5, "symbolOffset": 31, "labelOffset": 17, "rowPadding": 10,
            "encode": {"symbols": {"update": {
              "shape": {"signal": "['M-1,0H1M0,-0.13L0.13,0L0,0.13L-0.13,0Z','M-1,0H1M-0.15,-0.15H0.15V0.15H-0.15Z','M-1,0H1M0,-0.17L0.16,0.13H-0.16Z','M-1,0H1M-0.12,-0.12L0.12,0.12M-0.12,0.12L0.12,-0.12','M-1,0H1M-0.17,0A0.17,0.17 0 1,0 0.17,0A0.17,0.17 0 1,0 -0.17,0Z'][datum.value == 'HS(0.073)' ? 4 : toNumber(slice(datum.value, 5, 6)) - 1]"},
              "fill": {"signal": "['#000080','#ff00ff','#00ff00','transparent','#993300'][datum.value == 'HS(0.073)' ? 4 : toNumber(slice(datum.value, 5, 6)) - 1]"},
              "stroke": {"signal": "['#000080','#ff00ff','#00ff00','#00ffff','#993300'][datum.value == 'HS(0.073)' ? 4 : toNumber(slice(datum.value, 5, 6)) - 1]"},
              "strokeWidth": {"signal": "datum.value == 'HS(0.073)' ? 4 : 1.8"},
              "size": {"value": 1296},
              "opacity": {"value": 1}
            }}}
          }
        }
      },
      "layer": [
        {"data": {"name": "BH01"}, "mark": {"type": "line", "strokeWidth": 1.6}},
        {"data": {"name": "BH01"}, "mark": {"type": "point", "filled": true, "size": 100, "opacity": 1},
         "encoding": {
           "color": {"field": "series", "type": "nominal", "legend": null},
           "shape": {"field": "series", "type": "nominal", "legend": null, "scale": {"range": ["M0,-0.85L0.85,0L0,0.85L-0.85,0Z", "M-0.9,-0.9H0.9V0.9H-0.9Z", "M0,-0.9L0.95,0.75H-0.95Z", "M-0.59,-0.8L0,-0.21L0.59,-0.8L0.8,-0.59L0.21,0L0.8,0.59L0.59,0.8L0,0.21L-0.59,0.8L-0.8,0.59L-0.21,0L-0.8,-0.59Z", "M-1.1,0A1.1,1.1 0 1,0 1.1,0A1.1,1.1 0 1,0 -1.1,0Z"]}}}},
        {"data": {"name": "HS"}, "mark": {"type": "line", "strokeWidth": 4}},
        {"data": {"name": "HS"}, "mark": {"type": "point", "filled": true, "size": 100, "opacity": 1},
         "encoding": {
           "color": {"field": "series", "type": "nominal", "legend": null},
           "shape": {"field": "series", "type": "nominal", "legend": null}}}
      ]
    },
    {
      "width": 600,
      "height": 51,
      "view": {"stroke": null},
      "data": {"values": [{"letter": "a", "site": "BH01"}]},
      "layer": [
        {"mark": {"type": "text", "font": "Liberation Serif", "fontWeight": "bold", "fontSize": 23, "dx": 22, "dy": -7, "color": "black"}, "encoding": {"text": {"field": "letter"}}},
        {"mark": {"type": "text", "font": "Liberation Serif", "fontSize": 21, "dx": 64, "dy": -7, "color": "black"}, "encoding": {"text": {"field": "site"}}}
      ]
    },
    {
      "width": 702,
      "height": 337,
      "title": {"text": "Isomers of dioxin distribution at BH02", "offset": 6, "dx": 11},
      "encoding": {
        "x": {
          "field": "isomer", "type": "nominal",
          "scale": {"type": "band", "paddingInner": 0, "paddingOuter": 0, "domain": ["2,3,7,8-TCDF", "1,2,7,8-TeCDF", "1,2,3,7,8-PeCDF", "2,3,4,7,8-PeCDF", "1,2,3,4,7,8-HxCDF", "1,2,3,6,7,8-HxCDF", "1,2,3,7,8,9-HxCDF", "2,3,4,6,7,8-HxCDF", "1,2,3,4,6,7,8-HpCDF", "1,2,3,4,7,8,9-HpCDF", "OCDF", "2,3,7,8-TCDD", "1,3,6,8-TeCDD", "1,3,7,9-TeCDD", "1,2,3,7,8-PeCDD", "1,2,3,4,7,8-HxCDD", "1,2,3,6,7,8-HxCDD", "1,2,3,7,8,9-HxCDD", "1,2,3,4,6,7,8-HpCDD", "OCDD", "3,4,4',5-TeCB(#81)", "3,3',4,4'-TeCB(#77)", "3,3',4,4',5-PeCB(#126)", "3,3',4,4',5,5'-HxCB(#169)", "2',3,4,4',5-PeCB(#123)", "2,3',4,4',5-PeCB(#118)", "2,3,3',4,4'-PeCB(#105)", "2,3,4,4',5-PeCB(#114)", "2,3',4,4',5,5'-HxCB(#167)", "2,3,3',4,4',5-HxCB(#156)", "2,3,3',4,4',5'-HxCB(#157)", "2,3,3',4,4',5,5'-HpCB(#189)"]},
          "axis": {"title": "Isomers", "titleFontSize": 17, "titleY": 117, "titleX": 358, "titleBaseline": "middle", "labelAngle": -90, "labelFontSize": 8, "labelPadding": 4, "tickBand": "extent", "tickSize": 3, "tickColor": "black", "domain": false, "grid": false}
        },
        "y": {
          "field": "value", "type": "quantitative",
          "scale": {"type": "log", "domain": [0.001, 10000], "nice": false},
          "axis": {"title": "Concentration (pg-TEQ/g)", "titleFontSize": 18, "titlePadding": 0, "labelFontSize": 12, "labelPadding": 13, "ticks": false, "domain": false, "grid": true, "gridColor": "#808080", "gridWidth": 1, "values": [0.001, 0.01, 0.1, 1, 10, 100, 1000, 10000], "format": "~g"}
        },
        "color": {
          "field": "series", "type": "nominal",
          "scale": {"domain": ["BH02-1 (320)", "BH02-2 (450)", "BH02-3 (760)", "BH02-4 (4.4)", "HS(0.073)"], "range": ["#000080", "#ff00ff", "#00ff00", "#00ffff", "#993300"]},
          "legend": {
            "legendX": 44, "legendY": 10, "symbolOffset": 33, "labelOffset": 18, "rowPadding": 11.5,
            "encode": {"symbols": {"update": {
              "shape": {"signal": "['M-1,0H1M0,-0.13L0.13,0L0,0.13L-0.13,0Z','M-1,0H1M-0.15,-0.15H0.15V0.15H-0.15Z','M-1,0H1M0,-0.17L0.16,0.13H-0.16Z','M-1,0H1M-0.12,-0.12L0.12,0.12M-0.12,0.12L0.12,-0.12','M-1,0H1M-0.17,0A0.17,0.17 0 1,0 0.17,0A0.17,0.17 0 1,0 -0.17,0Z'][datum.value == 'HS(0.073)' ? 4 : toNumber(slice(datum.value, 5, 6)) - 1]"},
              "fill": {"signal": "['#000080','#ff00ff','#00ff00','transparent','#993300'][datum.value == 'HS(0.073)' ? 4 : toNumber(slice(datum.value, 5, 6)) - 1]"},
              "stroke": {"signal": "['#000080','#ff00ff','#00ff00','#00ffff','#993300'][datum.value == 'HS(0.073)' ? 4 : toNumber(slice(datum.value, 5, 6)) - 1]"},
              "strokeWidth": {"signal": "datum.value == 'HS(0.073)' ? 4 : 1.8"},
              "size": {"value": 1296},
              "opacity": {"value": 1}
            }}}
          }
        }
      },
      "layer": [
        {"data": {"name": "BH02"}, "mark": {"type": "line", "strokeWidth": 1.6}},
        {"data": {"name": "BH02"}, "mark": {"type": "point", "filled": true, "size": 100, "opacity": 1},
         "encoding": {
           "color": {"field": "series", "type": "nominal", "legend": null},
           "shape": {"field": "series", "type": "nominal", "legend": null, "scale": {"range": ["M0,-0.85L0.85,0L0,0.85L-0.85,0Z", "M-0.9,-0.9H0.9V0.9H-0.9Z", "M0,-0.9L0.95,0.75H-0.95Z", "M-0.59,-0.8L0,-0.21L0.59,-0.8L0.8,-0.59L0.21,0L0.8,0.59L0.59,0.8L0,0.21L-0.59,0.8L-0.8,0.59L-0.21,0L-0.8,-0.59Z", "M-1.1,0A1.1,1.1 0 1,0 1.1,0A1.1,1.1 0 1,0 -1.1,0Z"]}}}},
        {"data": {"name": "HS"}, "mark": {"type": "line", "strokeWidth": 4}},
        {"data": {"name": "HS"}, "mark": {"type": "point", "filled": true, "size": 100, "opacity": 1},
         "encoding": {
           "color": {"field": "series", "type": "nominal", "legend": null},
           "shape": {"field": "series", "type": "nominal", "legend": null}}}
      ]
    },
    {
      "width": 600,
      "height": 39,
      "view": {"stroke": null},
      "data": {"values": [{"letter": "b", "site": "BH02"}]},
      "layer": [
        {"mark": {"type": "text", "font": "Liberation Serif", "fontWeight": "bold", "fontSize": 23, "dx": 35, "dy": -4.5, "color": "black"}, "encoding": {"text": {"field": "letter"}}},
        {"mark": {"type": "text", "font": "Liberation Serif", "fontSize": 21, "dx": 75, "dy": -4.5, "color": "black"}, "encoding": {"text": {"field": "site"}}}
      ]
    },
    {
      "width": 702,
      "height": 292,
      "title": {"text": "Isomers of dioxin distribution at BH03", "offset": 5, "dx": 9},
      "encoding": {
        "x": {
          "field": "isomer", "type": "nominal",
          "scale": {"type": "band", "paddingInner": 0, "paddingOuter": 0, "domain": ["2,3,7,8-TCDF", "1,2,7,8-TeCDF", "1,2,3,7,8-PeCDF", "2,3,4,7,8-PeCDF", "1,2,3,4,7,8-HxCDF", "1,2,3,6,7,8-HxCDF", "1,2,3,7,8,9-HxCDF", "2,3,4,6,7,8-HxCDF", "1,2,3,4,6,7,8-HpCDF", "1,2,3,4,7,8,9-HpCDF", "OCDF", "2,3,7,8-TCDD", "1,3,6,8-TeCDD", "1,3,7,9-TeCDD", "1,2,3,7,8-PeCDD", "1,2,3,4,7,8-HxCDD", "1,2,3,6,7,8-HxCDD", "1,2,3,7,8,9-HxCDD", "1,2,3,4,6,7,8-HpCDD", "OCDD", "3,4,4',5-TeCB(#81)", "3,3',4,4'-TeCB(#77)", "3,3',4,4',5-PeCB(#126)", "3,3',4,4',5,5'-HxCB(#169)", "2',3,4,4',5-PeCB(#123)", "2,3',4,4',5-PeCB(#118)", "2,3,3',4,4'-PeCB(#105)", "2,3,4,4',5-PeCB(#114)", "2,3',4,4',5,5'-HxCB(#167)", "2,3,3',4,4',5-HxCB(#156)", "2,3,3',4,4',5'-HxCB(#157)", "2,3,3',4,4',5,5'-HpCB(#189)"]},
          "axis": {"title": "Isomers", "titleFontSize": 17, "titleY": 114, "titleX": 356, "titleBaseline": "middle", "labelAngle": -90, "labelFontSize": 8, "labelPadding": 4, "tickBand": "extent", "tickSize": 3, "tickColor": "black", "domain": false, "grid": false}
        },
        "y": {
          "field": "value", "type": "quantitative",
          "scale": {"type": "log", "domain": [0.001, 10000], "nice": false},
          "axis": {"title": "Concentration (pg-TEQ/g)", "titleFontSize": 18, "titlePadding": 6, "labelFontSize": 12, "labelPadding": 13, "ticks": false, "domain": false, "grid": true, "gridColor": "#808080", "gridWidth": 1, "values": [0.001, 0.01, 0.1, 1, 10, 100, 1000, 10000], "format": "~g"}
        },
        "color": {
          "field": "series", "type": "nominal",
          "scale": {"domain": ["BH03-1 (32)", "BH03-2 (0.011)", "BH03-3 (4.3)", "BH03-4 (0.0024)", "HS(0.073)"], "range": ["#000080", "#ff00ff", "#00ff00", "#00ffff", "#993300"]},
          "legend": {
            "legendX": 10, "legendY": 9, "symbolOffset": 38, "labelOffset": 17, "rowPadding": 12,
            "encode": {"symbols": {"update": {
              "shape": {"signal": "['M-1,0H1M0,-0.13L0.13,0L0,0.13L-0.13,0Z','M-1,0H1M-0.15,-0.15H0.15V0.15H-0.15Z','M-1,0H1M0,-0.17L0.16,0.13H-0.16Z','M-1,0H1M-0.12,-0.12L0.12,0.12M-0.12,0.12L0.12,-0.12','M-1,0H1M-0.17,0A0.17,0.17 0 1,0 0.17,0A0.17,0.17 0 1,0 -0.17,0Z'][datum.value == 'HS(0.073)' ? 4 : toNumber(slice(datum.value, 5, 6)) - 1]"},
              "fill": {"signal": "['#000080','#ff00ff','#00ff00','transparent','#993300'][datum.value == 'HS(0.073)' ? 4 : toNumber(slice(datum.value, 5, 6)) - 1]"},
              "stroke": {"signal": "['#000080','#ff00ff','#00ff00','#00ffff','#993300'][datum.value == 'HS(0.073)' ? 4 : toNumber(slice(datum.value, 5, 6)) - 1]"},
              "strokeWidth": {"signal": "datum.value == 'HS(0.073)' ? 4 : 1.8"},
              "size": {"value": 1296},
              "opacity": {"value": 1}
            }}}
          }
        }
      },
      "layer": [
        {"data": {"name": "BH03"}, "mark": {"type": "line", "strokeWidth": 1.6}},
        {"data": {"name": "BH03"}, "mark": {"type": "point", "filled": true, "size": 100, "opacity": 1},
         "encoding": {
           "color": {"field": "series", "type": "nominal", "legend": null},
           "shape": {"field": "series", "type": "nominal", "legend": null, "scale": {"range": ["M0,-0.85L0.85,0L0,0.85L-0.85,0Z", "M-0.9,-0.9H0.9V0.9H-0.9Z", "M0,-0.9L0.95,0.75H-0.95Z", "M-0.59,-0.8L0,-0.21L0.59,-0.8L0.8,-0.59L0.21,0L0.8,0.59L0.59,0.8L0,0.21L-0.59,0.8L-0.8,0.59L-0.21,0L-0.8,-0.59Z", "M-1.1,0A1.1,1.1 0 1,0 1.1,0A1.1,1.1 0 1,0 -1.1,0Z"]}}}},
        {"data": {"name": "HS"}, "mark": {"type": "line", "strokeWidth": 4}},
        {"data": {"name": "HS"}, "mark": {"type": "point", "filled": true, "size": 100, "opacity": 1},
         "encoding": {
           "color": {"field": "series", "type": "nominal", "legend": null},
           "shape": {"field": "series", "type": "nominal", "legend": null}}}
      ]
    },
    {
      "width": 600,
      "height": 2,
      "view": {"stroke": null},
      "data": {"values": [{"letter": "c", "site": "BH03"}]},
      "layer": [
        {"mark": {"type": "text", "font": "Liberation Serif", "fontWeight": "bold", "fontSize": 23, "dx": 25, "dy": -17, "color": "black"}, "encoding": {"text": {"field": "letter"}}},
        {"mark": {"type": "text", "font": "Liberation Serif", "fontSize": 21, "dx": 65, "dy": -17, "color": "black"}, "encoding": {"text": {"field": "site"}}}
      ]
    }
  ]
}
